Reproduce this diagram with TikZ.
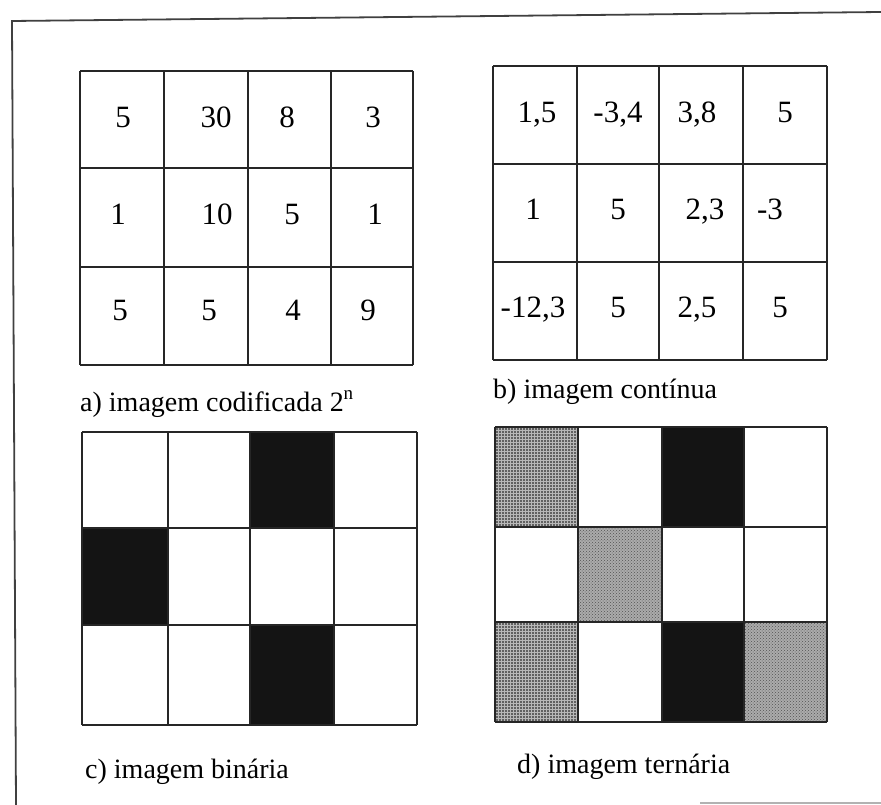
\documentclass[tikz,border=0pt]{standalone}
\usepackage{fontspec}
\setmainfont{Liberation Serif}
\usetikzlibrary{patterns}
\begin{document}
\begin{tikzpicture}[x=1pt,y=-1pt,
  gridline/.style={line width=1.8pt, draw=black!85},
  frameline/.style={line width=1.8pt, draw=black!75},
  num/.style={anchor=base, inner sep=0pt, font=\fontsize{31}{37}\selectfont},
  captext/.style={anchor=base west, inner sep=0pt, font=\fontsize{28}{34}\selectfont},
  blackcell/.style={fill=black!92},
  hatchcell/.style={fill=black!62, postaction={pattern=grid, pattern color=white!72!black}},
  dotcell/.style={fill=black!33, postaction={pattern=crosshatch dots, pattern color=black!68}}]
\useasboundingbox (0,0) rectangle (881,805);
% frame
\coordinate (ftl) at (12,21);
\coordinate (ftr) at (881,12);
\coordinate (fbl) at (16,805);
\draw[frameline] (ftr) -- (ftl) -- (fbl);
\coordinate (fb1) at (700,803);
\coordinate (fb2) at (881,803);
\draw[gray!60, line width=1.2pt] (fb1) -- (fb2);

% ---------- panel a ----------
\foreach \x in {80,164,248,331,413} \draw[gridline] (\x,71) -- (\x,365);
\foreach \y in {71,168,267,365} \draw[gridline] (80,\y) -- (413,\y);
\node[num] (a11) at (123,128) {5};
\node[num] (a12) at (216,128) {30};
\node[num] (a13) at (287,128) {8};
\node[num] (a14) at (373,128) {3};
\node[num] (a21) at (118,225) {1};
\node[num] (a22) at (217,225) {10};
\node[num] (a23) at (292,225) {5};
\node[num] (a24) at (375,225) {1};
\node[num] (a31) at (120,320) {5};
\node[num] (a32) at (209,320) {5};
\node[num] (a33) at (293,320) {4};
\node[num] (a34) at (368,320) {9};
\node[captext] (capa) at (80,411) {a) imagem codificada 2\raisebox{0.42em}{\fontsize{19}{20}\selectfont n}};

% ---------- panel b ----------
\foreach \x in {493,577,659,743,827} \draw[gridline] (\x,66) -- (\x,360);
\foreach \y in {66,164,262,360} \draw[gridline] (493,\y) -- (827,\y);
\node[num] (b11) at (537,123) {1,5};
\node[num] (b12) at (618,123) {-3,4};
\node[num] (b13) at (697,123) {3,8};
\node[num] (b14) at (785,123) {5};
\node[num] (b21) at (533,220) {1};
\node[num] (b22) at (618,220) {5};
\node[num] (b23) at (705,220) {2,3};
\node[num] (b24) at (770,220) {-3};
\node[num] (b31) at (533,317) {-12,3};
\node[num] (b32) at (618,317) {5};
\node[num] (b33) at (697,317) {2,5};
\node[num] (b34) at (780,317) {5};
\node[captext] (capb) at (493,398) {b) imagem contínua};

% ---------- panel c ----------
\path[blackcell] (250,432) rectangle (334,528);
\path[blackcell] (82,528) rectangle (168,625);
\path[blackcell] (250,625) rectangle (334,725);
\foreach \x in {82,168,250,334,417} \draw[gridline] (\x,432) -- (\x,725);
\foreach \y in {432,528,625,725} \draw[gridline] (82,\y) -- (417,\y);
\node[captext] (capc) at (85,778) {c) imagem binária};

% ---------- panel d ----------
\path[hatchcell] (495,427) rectangle (578,527);
\path[blackcell] (662,427) rectangle (744,527);
\path[dotcell] (578,527) rectangle (662,622);
\path[hatchcell] (495,622) rectangle (578,722);
\path[blackcell] (662,622) rectangle (744,722);
\path[dotcell] (744,622) rectangle (827,722);
\foreach \x in {495,578,662,744,827} \draw[gridline] (\x,427) -- (\x,722);
\foreach \y in {427,527,622,722} \draw[gridline] (495,\y) -- (827,\y);
\node[captext] (capd) at (517,773) {d) imagem ternária};
\end{tikzpicture}
\end{document}
